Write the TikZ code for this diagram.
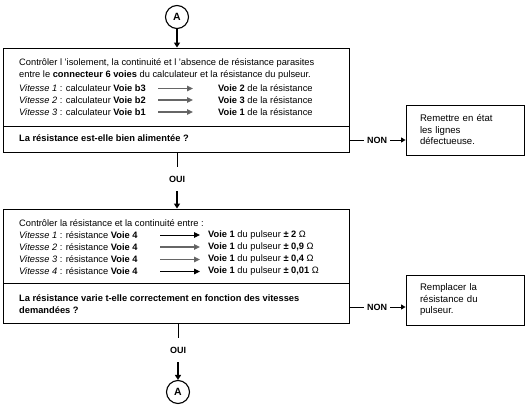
\documentclass[tikz,border=0pt]{standalone}
\usepackage{fontspec}
\setmainfont{Liberation Sans}
\usetikzlibrary{arrows.meta}
\begin{document}
\begin{tikzpicture}[x=1pt,y=-1pt,
  font=\fontsize{9.3}{11.5}\selectfont,
  txt/.style={anchor=west,inner sep=0pt},
  box/.style={draw,line width=0.9pt,inner sep=0pt},
  circ/.style={circle,draw,line width=1.1pt,minimum size=23pt,inner sep=0pt,font=\bfseries\fontsize{10.5}{12}\selectfont},
  arr/.style={line width=1.5pt,-{Triangle[length=5pt,width=6pt]}},
  plain/.style={line width=0.9pt},
  garr/.style={line width=1.7pt,draw=black!60,-{Triangle[length=6pt,width=5.5pt,fill=black]}},
  barr/.style={line width=0.9pt,-{Triangle[length=6pt,width=5.5pt]}},
  sarr/.style={line width=0.9pt,-{Triangle[length=4.5pt,width=5pt]}},
  lab/.style={font=\bfseries\fontsize{9}{10}\selectfont,inner ysep=7pt,inner xsep=3pt},
  rbox/.style={draw,line width=0.9pt,minimum width=116pt,minimum height=50pt,text width=90pt,align=left,inner xsep=14pt,font=\fontsize{9.6}{11.5}\selectfont}
]
\useasboundingbox (0,0) rectangle (528,418);

% top connector A
\node[circ] (A1) at (177,17) {A};

% box 1
\node[box,minimum width=346pt,minimum height=78pt] (b1top) at (176,87) {};
\node[box,minimum width=346pt,minimum height=26pt] (b1q) at (176,139) {};
\draw[arr] (A1.south) -- (A1.south |- b1top.north);

\node[txt] (t11) at (19,63) {Contrôler l 'isolement, la continuité et l 'absence de résistance parasites};
\node[txt] (t12) at (19,75) {entre le \textbf{connecteur 6 voies} du calculateur et la résistance du pulseur.};
\node[txt] (v1l) at (19,88.5) {\textit{Vitesse 1} : calculateur \textbf{Voie b3}};
\node[txt] (v2l) at (19,100) {\textit{Vitesse 2} : calculateur \textbf{Voie b2}};
\node[txt] (v3l) at (19,112) {\textit{Vitesse 3} : calculateur \textbf{Voie b1}};
\node[txt] (v1r) at (218,88.5) {\textbf{Voie 2} de la résistance};
\node[txt] (v2r) at (218,100) {\textbf{Voie 3} de la résistance};
\node[txt] (v3r) at (218,112) {\textbf{Voie 1} de la résistance};
\coordinate (a1s) at (158,88.5); \coordinate (a1e) at (193,88.5);
\coordinate (a2s) at (158,100); \coordinate (a2e) at (193,100);
\coordinate (a3s) at (158,112); \coordinate (a3e) at (193,112);
\draw[garr] (a1s) -- (a1e);
\draw[garr] (a2s) -- (a2e);
\draw[garr] (a3s) -- (a3e);

\node[txt,font=\bfseries\fontsize{9.3}{10}\selectfont] (q1) at (19,138) {La résistance est-elle bien alimentée ?};

% NON 1
\node[lab] (non1) at (377,140) {NON};
\node[rbox] (r1) at (465,130) {Remettre en état\\les lignes\\défectueuse.};
\draw[plain] (b1q.east |- non1.west) -- (non1.west);
\draw[sarr] (non1.east) -- (r1.west |- non1.east);

% OUI 1
\node[lab,inner ysep=9pt] (oui1) at (177,179) {OUI};
\draw[plain] (oui1.north |- b1q.south) -- (oui1.north);

% box 2
\node[box,minimum width=346pt,minimum height=74pt] (b2top) at (176,246) {};
\node[box,minimum width=346pt,minimum height=40pt] (b2q) at (176,303) {};
\draw[arr] (oui1.south) -- (oui1.south |- b2top.north);

\node[txt] (t21) at (19,223) {Contrôler la résistance et la continuité entre :};
\node[txt] (w1l) at (19,235) {\textit{Vitesse 1} : résistance \textbf{Voie 4}};
\node[txt] (w2l) at (19,247) {\textit{Vitesse 2} : résistance \textbf{Voie 4}};
\node[txt] (w3l) at (19,259.5) {\textit{Vitesse 3} : résistance \textbf{Voie 4}};
\node[txt] (w4l) at (19,271.5) {\textit{Vitesse 4} : résistance \textbf{Voie 4}};
\node[txt] (w1r) at (208,235) {\textbf{Voie 1} du pulseur \textbf{± 2} Ω};
\node[txt] (w2r) at (208,247) {\textbf{Voie 1} du pulseur \textbf{± 0,9} Ω};
\node[txt] (w3r) at (208,259.5) {\textbf{Voie 1} du pulseur \textbf{± 0,4} Ω};
\node[txt] (w4r) at (208,271.5) {\textbf{Voie 1} du pulseur \textbf{± 0,01} Ω};
\coordinate (c1s) at (160,235); \coordinate (c1e) at (200,235);
\coordinate (c2s) at (160,247); \coordinate (c2e) at (200,247);
\coordinate (c3s) at (160,259.5); \coordinate (c3e) at (200,259.5);
\coordinate (c4s) at (160,271.5); \coordinate (c4e) at (200,271.5);
\draw[barr] (c1s) -- (c1e);
\draw[garr] (c2s) -- (c2e);
\draw[garr] (c3s) -- (c3e);
\draw[barr] (c4s) -- (c4e);

\node[txt,font=\bfseries\fontsize{9.3}{12}\selectfont,anchor=north west,align=left] (q2) at (19,294) {La résistance varie t-elle correctement en fonction des vitesses\\demandées ?};

% NON 2
\node[lab] (non2) at (377,307) {NON};
\node[rbox] (r2) at (465,300) {Remplacer la\\résistance du\\pulseur.};
\draw[plain] (b2q.east |- non2.west) -- (non2.west);
\draw[sarr] (non2.east) -- (r2.west |- non2.east);

% OUI 2
\node[lab,inner ysep=9pt] (oui2) at (178,350) {OUI};
\draw[plain] (oui2.north |- b2q.south) -- (oui2.north);
\node[circ] (A2) at (178,392) {A};
\draw[arr] (oui2.south) -- (A2.north);
\end{tikzpicture}
\end{document}
